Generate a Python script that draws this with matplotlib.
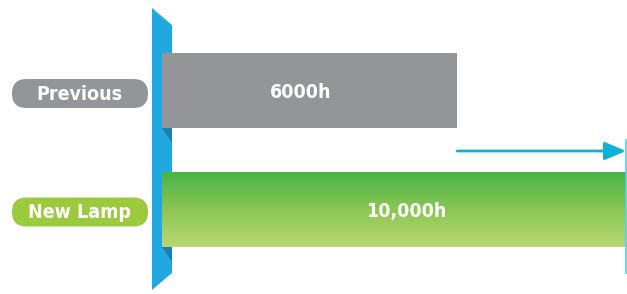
import matplotlib
matplotlib.use("Agg")
import matplotlib.pyplot as plt
import numpy as np
from matplotlib.patches import Polygon, FancyBboxPatch
from matplotlib.colors import LinearSegmentedColormap

categories = ["Previous", "New Lamp"]
hours = [6000, 10000]
value_labels = ["6000h", "10,000h"]
pill_colors = ["#939598", "#9bca3c"]

W, H = 627, 294
fig = plt.figure(figsize=(W / 100, H / 100), dpi=100)

bg = fig.add_axes([0, 0, 1, 1])
bg.set_xlim(0, W)
bg.set_ylim(H, 0)
bg.axis("off")

band = Polygon([(152, 8), (172, 25), (172, 273), (152, 290)], closed=True,
               facecolor="#22a8e0", edgecolor="none")
bg.add_patch(band)

font = ["DejaVu Sans"]
pill_y = [93.5, 212]
for cat, col, yc in zip(categories, pill_colors, pill_y):
    p = FancyBboxPatch((12, yc - 14.5), 136, 29,
                       boxstyle="round,pad=0,rounding_size=14.5",
                       facecolor=col, edgecolor="none")
    bg.add_patch(p)
    bg.text(79, yc + 0.5, cat, color="white", fontsize=14, fontweight="bold",
            fontstretch="condensed", family=font, ha="center", va="center")

base = -1000
x0_px, x1_px = 162, 626
k = (x1_px - x0_px) / (hours[1] - base)
ax = fig.add_axes([0, 0, 1, 1])
ax.axis("off")
ax.patch.set_alpha(0)

bar_y = [90.5, 209.5]
bar_h = 75

for yc in bar_y:
    yb = yc + bar_h / 2
    tri = Polygon([(162, yb), (172, yb), (172, yb + 15)], closed=True,
                  facecolor="#1d7fae", edgecolor="none")
    bg.add_patch(tri)

bars = ax.barh(bar_y, [h - base for h in hours], left=base, height=bar_h,
               color=["#939598", "#4db748"], edgecolor="none")

cmap = LinearSegmentedColormap.from_list("g", ["#46b547", "#8cc654", "#b9d872"])
grad = np.linspace(0, 1, 256).reshape(-1, 1)
im = ax.imshow(grad, cmap=cmap, aspect="auto",
               extent=(base, hours[1], bar_y[1] + bar_h / 2, bar_y[1] - bar_h / 2),
               origin="upper", zorder=2)
im.set_clip_path(bars[1])
ax.set_xlim(base - x0_px / k, base + (W - x0_px) / k)
ax.set_ylim(H, 0)

label_dx_px = [-9, 12]
for h, dx, yc, lab in zip(hours, label_dx_px, bar_y, value_labels):
    lx = (base + h) / 2 + dx / k
    ax.text(lx, yc + 1.5, lab, color="white", fontsize=14, fontweight="bold",
            fontstretch="condensed", family=font, ha="center", va="center",
            zorder=3)

ax.annotate("", xy=(hours[1], 151), xytext=(hours[0], 151),
            arrowprops=dict(arrowstyle="-|>,head_length=1.3,head_width=0.55",
                            color="#0fb0da", lw=2, shrinkA=0, shrinkB=0),
            zorder=4)
ax.plot([hours[1], hours[1]], [140, 273], color="#5ac8ea", lw=1.2, zorder=4)

fig.savefig("out.png", dpi=100)
